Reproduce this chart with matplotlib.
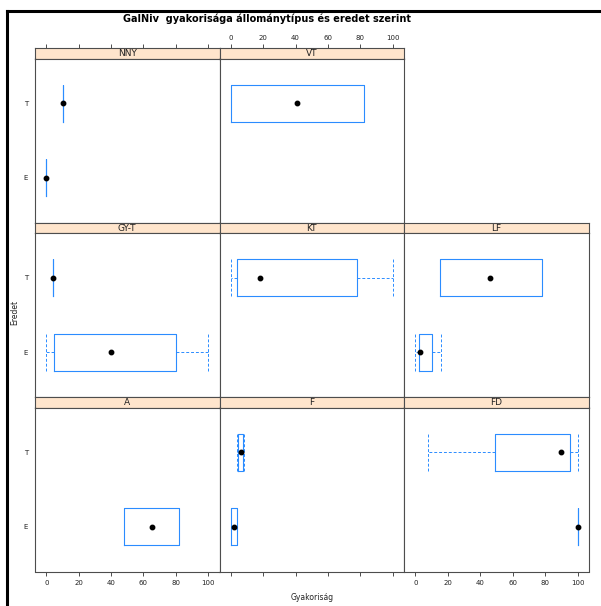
import matplotlib.pyplot as plt
from matplotlib.lines import Line2D

# five-number summaries per panel: (min, q1, median, q3, max)
panels = ['NNY', 'VT', 'GY-T', 'KT', 'LF', 'A', 'F', 'FD']
origins = ['E', 'T']
stats_E = {
    'NNY': (0, 0, 0, 0, 0),
    'VT': None,
    'GY-T': (0, 5, 40, 80, 100),
    'KT': None,
    'LF': (0, 2, 3, 10, 16),
    'A': (48, 48, 65, 82, 82),
    'F': (0, 0, 2, 4, 4),
    'FD': (100, 100, 100, 100, 100),
}
stats_T = {
    'NNY': (10, 10, 10, 10, 10),
    'VT': (0, 0, 41, 82, 82),
    'GY-T': (4, 4, 4, 4, 4),
    'KT': (0, 4, 18, 78, 100),
    'LF': (15, 15, 46, 78, 78),
    'A': None,
    'F': (4, 4.5, 6, 7.5, 8),
    'FD': (8, 49, 90, 95, 100),
}
xticks = [0, 20, 40, 60, 80, 100]

W, H = 601, 606
BOX = '#2b8cff'
EDGE = '#4d4d4d'

fig = plt.figure(figsize=(W / 100, H / 100), dpi=100)


def px_axes(x0, y0, x1, y1):
    return fig.add_axes([x0 / W, 1 - y1 / H, (x1 - x0) / W, (y1 - y0) / H])


col_x = [(35, 219.5), (219.5, 404), (404, 589)]
row_top = [48, 222.5, 397]
strip_h = 10.5
panel_h = 164

layout = {'NNY': (0, 0), 'VT': (0, 1), 'GY-T': (1, 0), 'KT': (1, 1),
          'LF': (1, 2), 'A': (2, 0), 'F': (2, 1), 'FD': (2, 2)}

for name in panels:
    r, c = layout[name]
    x0, x1 = col_x[c]
    top = row_top[r]
    # strip
    sax = px_axes(x0, top, x1, top + strip_h)
    sax.set_facecolor('#ffe5cc')
    sax.set_xticks([])
    sax.set_yticks([])
    for sp in sax.spines.values():
        sp.set_color(EDGE)
        sp.set_linewidth(0.8)
    sax.text(0.5, 0.45, name, ha='center', va='center', fontsize=6.5,
             color='#222222', transform=sax.transAxes)

    ax = px_axes(x0, top + strip_h, x1, top + strip_h + panel_h)
    ax.set_xlim(-7, 107)
    ax.set_ylim(0.4, 2.6)
    for sp in ax.spines.values():
        sp.set_color(EDGE)
        sp.set_linewidth(0.8)

    bstats, pos = [], []
    for i, src in enumerate([stats_E, stats_T]):
        s = src[name]
        if s is None:
            continue
        lo, q1, med, q3, hi = s
        bstats.append(dict(whislo=lo, q1=q1, med=med, q3=q3, whishi=hi, fliers=[]))
        pos.append(i + 1)
    ax.bxp(bstats, positions=pos, widths=0.5, capwidths=0.5,
           orientation='horizontal', manage_ticks=False,
           boxprops=dict(color=BOX, linewidth=0.8),
           whiskerprops=dict(color=BOX, linewidth=0.7, linestyle=(0, (3, 2))),
           capprops=dict(color=BOX, linewidth=0.7, linestyle=(0, (3, 2))),
           medianprops=dict(visible=False))
    ax.plot([b['med'] for b in bstats], pos, 'o', color='black', markersize=3.2)

    ax.set_yticks([1, 2])
    ax.tick_params(axis='y', length=0, pad=5, labelsize=5, labelcolor='#222222')
    if c == 0:
        ax.set_yticklabels(origins)
    else:
        ax.set_yticklabels([])

    ax.set_xticks(xticks)
    ax.set_xticklabels([str(t) for t in xticks])
    ax.tick_params(axis='x', length=3, width=0.7, color=EDGE, pad=3,
                   labelsize=5, labelcolor='#222222',
                   bottom=False, labelbottom=False, top=False, labeltop=False)
    if r == 2:
        ax.tick_params(axis='x', bottom=True, labelbottom=(c != 1))
    if r == 0:
        # top axis sits above the strip
        tax = px_axes(x0, top - 0.01, x1, top)
        tax.set_xlim(-7, 107)
        tax.set_yticks([])
        for sp in tax.spines.values():
            sp.set_visible(False)
        tax.set_xticks(xticks)
        tax.set_xticklabels([str(t) for t in xticks])
        tax.tick_params(axis='x', length=3, width=0.7, color=EDGE, pad=2,
                        labelsize=5, labelcolor='#222222', bottom=False,
                        labelbottom=False, top=True, labeltop=(c == 1))

# page frame
fig.add_artist(Line2D([7 / W, 1], [1 - 11 / H, 1 - 11 / H], color='black',
                      linewidth=2.2, transform=fig.transFigure))
fig.add_artist(Line2D([7 / W, 7 / W], [0, 1 - 11 / H], color='black',
                      linewidth=2.2, transform=fig.transFigure))

fig.text(267 / W, 1 - 19 / H, 'GalNiv  gyakorisága állománytípus és eredet szerint',
         ha='center', va='center', fontsize=7, fontweight='bold')
fig.text(312 / W, 1 - 597 / H, 'Gyakoriság', ha='center', va='center',
         fontsize=5.5, color='#222222')
fig.text(15 / W, 1 - 312 / H, 'Eredet', ha='center', va='center',
         fontsize=5.5, rotation=90, color='#222222')

fig.savefig('out.png', dpi=100)
